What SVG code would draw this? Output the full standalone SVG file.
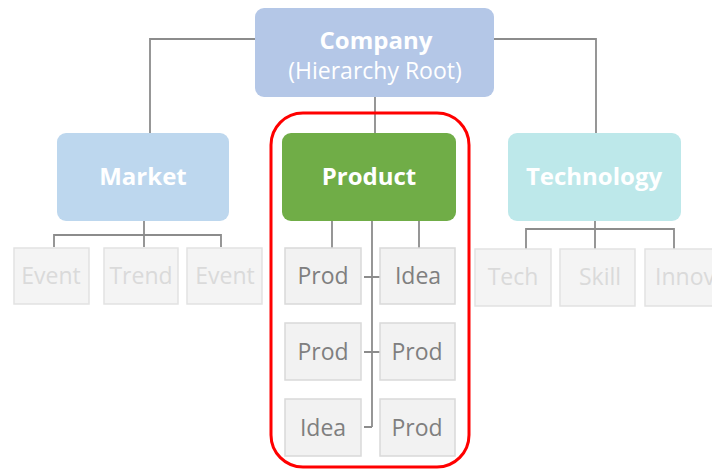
<svg xmlns="http://www.w3.org/2000/svg" width="712" height="471" viewBox="0 0 712 471">
<style>
.top{fill:#fff;font-family:"Open Sans","Liberation Sans",sans-serif;font-weight:bold;text-anchor:middle}
.sub{fill:#fff;font-family:"Open Sans","Liberation Sans",sans-serif;text-anchor:middle}
.fbox{fill:#f4f4f4;stroke:#e2e2e2;stroke-width:1.5}
.ftxt{fill:#dadada;font-family:"Open Sans","Liberation Sans",sans-serif;font-size:23px;text-anchor:middle}
.pbox{fill:#f2f2f2;stroke:#d9d9d9;stroke-width:1.5}
.ptxt{fill:#7f7f7f;font-family:"Open Sans","Liberation Sans",sans-serif;font-size:23px;text-anchor:middle}
.con{fill:none;stroke:#8c8c8c;stroke-width:1.8}
</style>
<rect width="712" height="471" fill="#fff"/>
<g id="connectors">
<path class="con" d="M255 39 H150 V133 M494 39 H596 V133 M375 97 V133"/>
<path class="con" d="M144 221 V235 M54 247 V235 H221 V247 M144 235 V247"/>
<path class="con" d="M595 221 V229 M526 249 V229 H674 V249 M595 229 V249"/>
<path class="con" d="M332 221 V248 M419 221 V248 M372 221 V427 M364 277 H380 M364 352 H380 M364 427 H372"/>
</g>
<g id="highlight"><rect x="271" y="113" width="198" height="354" rx="32" fill="none" stroke="#ff0000" stroke-width="3"/></g>
<g id="company"><rect x="255" y="8" width="239" height="89" rx="9" fill="#b4c7e7"/>
<text class="top" x="376" y="49" font-size="24">Company</text>
<text class="sub" x="375" y="79" font-size="23">(Hierarchy Root)</text></g>
<g id="market"><rect x="57" y="133" width="172" height="88" rx="9" fill="#bdd7ee"/>
<text class="top" x="143" y="185" font-size="24">Market</text></g>
<g id="product"><rect x="282" y="133" width="174" height="88" rx="9" fill="#70ad47"/>
<text class="top" x="369" y="185" font-size="24">Product</text></g>
<g id="technology"><rect x="508" y="133" width="173" height="88" rx="9" fill="#bde8ea"/>
<text class="top" x="594" y="185" font-size="24">Technology</text></g>
<g id="event1"><rect class="fbox" x="14" y="248" width="75" height="56"/><text class="ftxt" x="51" y="284">Event</text></g>
<g id="trend"><rect class="fbox" x="104" y="248" width="74" height="56"/><text class="ftxt" x="141" y="284">Trend</text></g>
<g id="event2"><rect class="fbox" x="187" y="248" width="75" height="56"/><text class="ftxt" x="225" y="284">Event</text></g>
<g id="tech"><rect class="fbox" x="475" y="249" width="76" height="57"/><text class="ftxt" x="513" y="285">Tech</text></g>
<g id="skill"><rect class="fbox" x="560" y="249" width="75" height="57"/><text class="ftxt" x="600" y="285">Skill</text></g>
<g id="innov"><rect class="fbox" x="645" y="249" width="75" height="57"/><text class="ftxt" x="685" y="285">Innov</text></g>
<g id="p1"><rect class="pbox" x="285" y="248" width="76" height="56"/><text class="ptxt" x="323" y="284">Prod</text></g>
<g id="p2"><rect class="pbox" x="380" y="248" width="75" height="56"/><text class="ptxt" x="418" y="284">Idea</text></g>
<g id="p3"><rect class="pbox" x="285" y="323" width="76" height="57"/><text class="ptxt" x="323" y="360">Prod</text></g>
<g id="p4"><rect class="pbox" x="380" y="323" width="75" height="57"/><text class="ptxt" x="417" y="360">Prod</text></g>
<g id="p5"><rect class="pbox" x="285" y="399" width="76" height="57"/><text class="ptxt" x="323" y="436">Idea</text></g>
<g id="p6"><rect class="pbox" x="380" y="399" width="75" height="57"/><text class="ptxt" x="417" y="436">Prod</text></g>
</svg>
